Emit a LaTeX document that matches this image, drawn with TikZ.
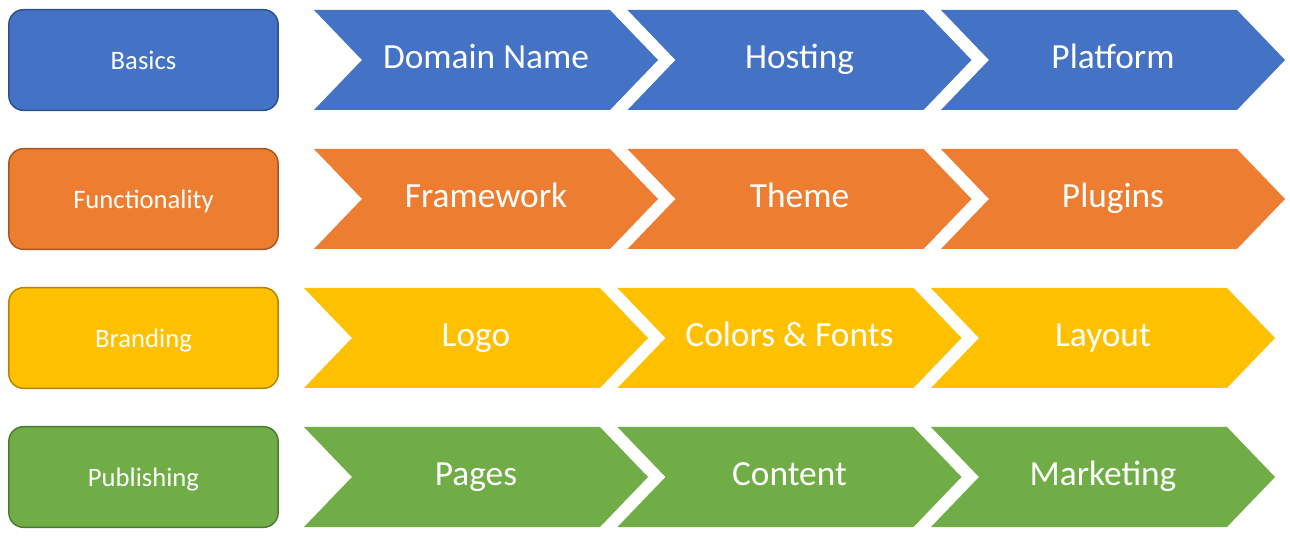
\documentclass[tikz,border=0pt]{standalone}
\usepackage{fontspec}
\setmainfont{Carlito}
\usepackage{tikz}
\usetikzlibrary{positioning}
\definecolor{cblue}{HTML}{4472C4}
\definecolor{corange}{HTML}{ED7D31}
\definecolor{cgold}{HTML}{FFC000}
\definecolor{cgreen}{HTML}{70AD47}
\begin{document}
\begin{tikzpicture}[x=0.75pt,y=-0.75pt,inner sep=0pt]
  \useasboundingbox[fill=white](0,0)rectangle(1290,538);
  \tikzstyle{box}=[rectangle,rounded corners=11pt,line width=1.1pt,minimum width=202pt,minimum height=75.5pt,text height=15pt,text depth=0pt,text=white,font=\fontsize{20}{24}\selectfont]
  \tikzstyle{lbl}=[text height=12.6pt,text depth=0pt,text=white,font=\fontsize{26.5}{30}\selectfont]
  \foreach\n/\y/\c/\t in{basics/10/cblue/Basics,func/149/corange/Functionality,brand/288/cgold/Branding,publ/427/cgreen/Publishing}{\node[box,fill=\c,draw=\c!70!black](\n)at(143.5,\y+50){\t};}
  \foreach\n/\y/\x/\c/\sa/\sb/\sc in{basics/10/314/cblue/Domain Name/Hosting/Platform,func/149/314/corange/Framework/Theme/Plugins,brand/288/304/cgold/Logo/Colors \& Fonts/Layout,publ/427/304/cgreen/Pages/Content/Marketing}{
    \foreach\i/\s in{0/\sa,1/\sb,2/\sc}{
      \fill[\c](\x+\i*313.5,\y)--++(296,0)--++(48,50)--++(-48,50)--++(-296,0)--++(48,-50)--cycle;
      \node[lbl](\n\i)at(\x+\i*313.5+172,\y+50){\s};}}
\end{tikzpicture}
\end{document}
